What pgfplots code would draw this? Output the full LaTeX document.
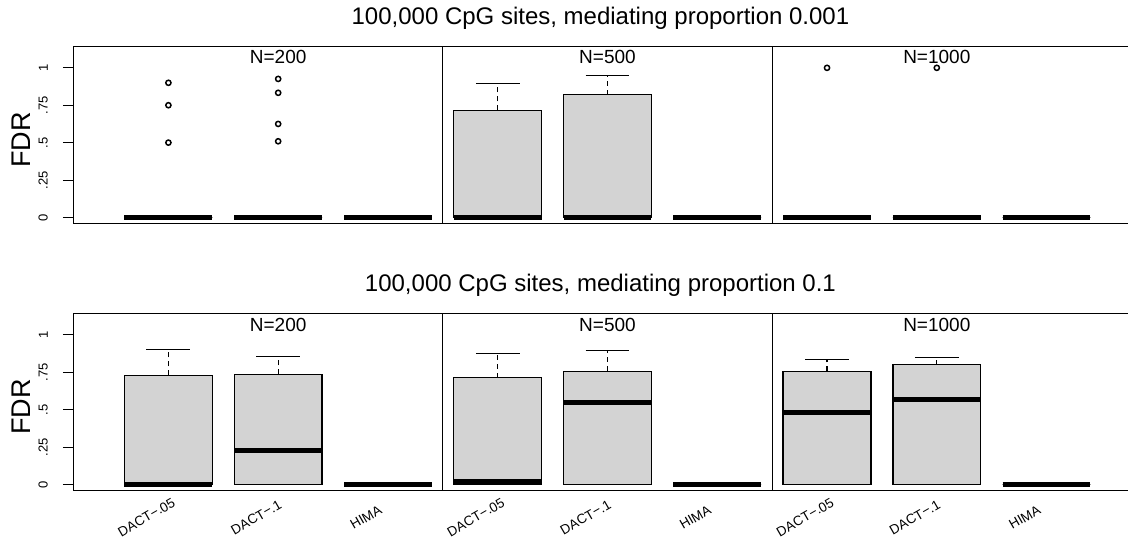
\documentclass[border=0pt]{standalone}
\usepackage{fontspec}
\setmainfont{Liberation Sans}
\usepackage{pgfplots}
\pgfplotsset{compat=1.18}
\usepgfplotslibrary{statistics}
\definecolor{boxgray}{RGB}{211,211,211}

\newcommand\tickfont{\fontsize{13}{15}\selectfont}
\newcommand\namefont{\fontsize{13.5}{15}\selectfont}
\newcommand\nfont{\fontsize{19}{22}\selectfont}
\newcommand\titlefont{\fontsize{24}{27}\selectfont}
\newcommand\labfont{\fontsize{27}{30}\selectfont}

\tikzset{method name/.style={font=\namefont, rotate=30, inner sep=0pt}}

\pgfplotsset{
  fdr panel/.style={
    scale only axis, width=1067pt, height=177.7pt,
    xmin=0.14, xmax=9.86, ymin=-0.044, ymax=1.144,
    axis line style={line width=1pt},
    xtick=\empty,
    extra x ticks={3.5,6.5}, extra x tick labels={},
    extra x tick style={grid=major, major tick length=0pt,
      major grid style={black, line width=1pt}},
    ytick={0,0.25,0.5,0.75,1}, yticklabels={0,.25,.5,.75,1},
    ytick pos=left, tick align=outside, major tick length=11pt,
    every tick/.style={black, line width=1pt},
    yticklabel style={rotate=90, anchor=south, inner sep=0pt, font=\tickfont},
    yticklabel shift=15pt,
    ylabel={FDR},
    ylabel style={font=\labfont, at={(axis description cs:-0.0497,0.474)}, anchor=center},
    title style={font=\titlefont, at={(0.4934,1)}, anchor=base, yshift=16pt},
    clip=false,
  },
  fdr box/.style={
    black, line width=1.3pt, mark=o, mark size=2.6pt,
    mark options={solid, line width=1.5pt},
    boxplot/draw direction=y,
    boxplot/box extend=0.8, boxplot/whisker extend=0.4,
    boxplot/every box/.style={fill=boxgray, draw=black, line width=1.3pt},
    boxplot/every median/.style={line width=5pt, line cap=butt},
    boxplot/draw/upper whisker/.code={%
      \draw[dash pattern=on 5pt off 4pt, line width=1.3pt]
        (boxplot box cs:\pgfplotsboxplotvalue{upper quartile},0.5) --
        (boxplot box cs:\pgfplotsboxplotvalue{upper whisker},0.5);
      \draw[line width=1.3pt]
        (boxplot whisker cs:\pgfplotsboxplotvalue{upper whisker},0) --
        (boxplot whisker cs:\pgfplotsboxplotvalue{upper whisker},1);
    },
    boxplot/draw/lower whisker/.code={%
      \draw[line width=1.3pt]
        (boxplot whisker cs:\pgfplotsboxplotvalue{lower whisker},0) --
        (boxplot whisker cs:\pgfplotsboxplotvalue{lower whisker},1);
    },
  },
}

\begin{document}
\begin{tikzpicture}
\useasboundingbox (-74pt,-47pt) rectangle (1054pt,491pt);
\clip (-74pt,-47pt) rectangle (1054pt,491pt);

% ---- mediating proportion 0.001 ----
\begin{axis}[fdr panel, at={(0pt,267pt)},
  title={100,000 CpG sites, mediating proportion 0.001}]
\addplot[fdr box, boxplot prepared={draw position=1, lower whisker=0, lower quartile=0,
  median=0, upper quartile=0, upper whisker=0}]
  table[row sep=\\, y index=0] {y\\ 0.9\\ 0.75\\ 0.5\\};
\addplot[fdr box, boxplot prepared={draw position=2, lower whisker=0, lower quartile=0,
  median=0, upper quartile=0, upper whisker=0}]
  table[row sep=\\, y index=0] {y\\ 0.926\\ 0.833\\ 0.625\\ 0.509\\};
\addplot[fdr box, boxplot prepared={draw position=3, lower whisker=0, lower quartile=0,
  median=0, upper quartile=0, upper whisker=0}] coordinates {};
\addplot[fdr box, boxplot prepared={draw position=4, lower whisker=0, lower quartile=0,
  median=0, upper quartile=0.716, upper whisker=0.893}] coordinates {};
\addplot[fdr box, boxplot prepared={draw position=5, lower whisker=0, lower quartile=0,
  median=0, upper quartile=0.82, upper whisker=0.949}] coordinates {};
\addplot[fdr box, boxplot prepared={draw position=6, lower whisker=0, lower quartile=0,
  median=0, upper quartile=0, upper whisker=0}] coordinates {};
\addplot[fdr box, boxplot prepared={draw position=7, lower whisker=0, lower quartile=0,
  median=0, upper quartile=0, upper whisker=0}]
  table[row sep=\\, y index=0] {y\\ 1\\};
\addplot[fdr box, boxplot prepared={draw position=8, lower whisker=0, lower quartile=0,
  median=0, upper quartile=0, upper whisker=0}]
  table[row sep=\\, y index=0] {y\\ 1\\};
\addplot[fdr box, boxplot prepared={draw position=9, lower whisker=0, lower quartile=0,
  median=0, upper quartile=0, upper whisker=0}] coordinates {};
\node[font=\nfont, inner sep=0pt] at (axis cs:2,1.073) {N=200};
\node[font=\nfont, inner sep=0pt] at (axis cs:5,1.073) {N=500};
\node[font=\nfont, inner sep=0pt] at (axis cs:8,1.073) {N=1000};
\end{axis}

% ---- mediating proportion 0.1 ----
\begin{axis}[fdr panel, at={(0pt,0pt)},
  title={100,000 CpG sites, mediating proportion 0.1}]
\addplot[fdr box, boxplot prepared={draw position=1, lower whisker=0, lower quartile=0,
  median=0, upper quartile=0.729, upper whisker=0.9}] coordinates {};
\addplot[fdr box, boxplot prepared={draw position=2, lower whisker=0, lower quartile=0,
  median=0.229, upper quartile=0.735, upper whisker=0.853}] coordinates {};
\addplot[fdr box, boxplot prepared={draw position=3, lower whisker=0, lower quartile=0,
  median=0, upper quartile=0, upper whisker=0}] coordinates {};
\addplot[fdr box, boxplot prepared={draw position=4, lower whisker=0, lower quartile=0,
  median=0.017, upper quartile=0.713, upper whisker=0.873}] coordinates {};
\addplot[fdr box, boxplot prepared={draw position=5, lower whisker=0, lower quartile=0,
  median=0.547, upper quartile=0.757, upper whisker=0.895}] coordinates {};
\addplot[fdr box, boxplot prepared={draw position=6, lower whisker=0, lower quartile=0,
  median=0, upper quartile=0, upper whisker=0}] coordinates {};
\addplot[fdr box, boxplot prepared={draw position=7, lower whisker=0, lower quartile=0,
  median=0.484, upper quartile=0.755, upper whisker=0.833}] coordinates {};
\addplot[fdr box, boxplot prepared={draw position=8, lower whisker=0, lower quartile=0,
  median=0.567, upper quartile=0.8, upper whisker=0.849}] coordinates {};
\addplot[fdr box, boxplot prepared={draw position=9, lower whisker=0, lower quartile=0,
  median=0, upper quartile=0, upper whisker=0}] coordinates {};
\node[font=\nfont, inner sep=0pt] at (axis cs:2,1.069) {N=200};
\node[font=\nfont, inner sep=0pt] at (axis cs:5,1.069) {N=500};
\node[font=\nfont, inner sep=0pt] at (axis cs:8,1.069) {N=1000};
% method names under each box
\node[method name] at (axis cs:0.8,-0.22) {DACT−.05};
\node[method name] at (axis cs:1.8,-0.22) {DACT−.1};
\node[method name] at (axis cs:2.8,-0.22) {HIMA};
\node[method name] at (axis cs:3.8,-0.22) {DACT−.05};
\node[method name] at (axis cs:4.8,-0.22) {DACT−.1};
\node[method name] at (axis cs:5.8,-0.22) {HIMA};
\node[method name] at (axis cs:6.8,-0.22) {DACT−.05};
\node[method name] at (axis cs:7.8,-0.22) {DACT−.1};
\node[method name] at (axis cs:8.8,-0.22) {HIMA};
\end{axis}
\end{tikzpicture}
\end{document}
